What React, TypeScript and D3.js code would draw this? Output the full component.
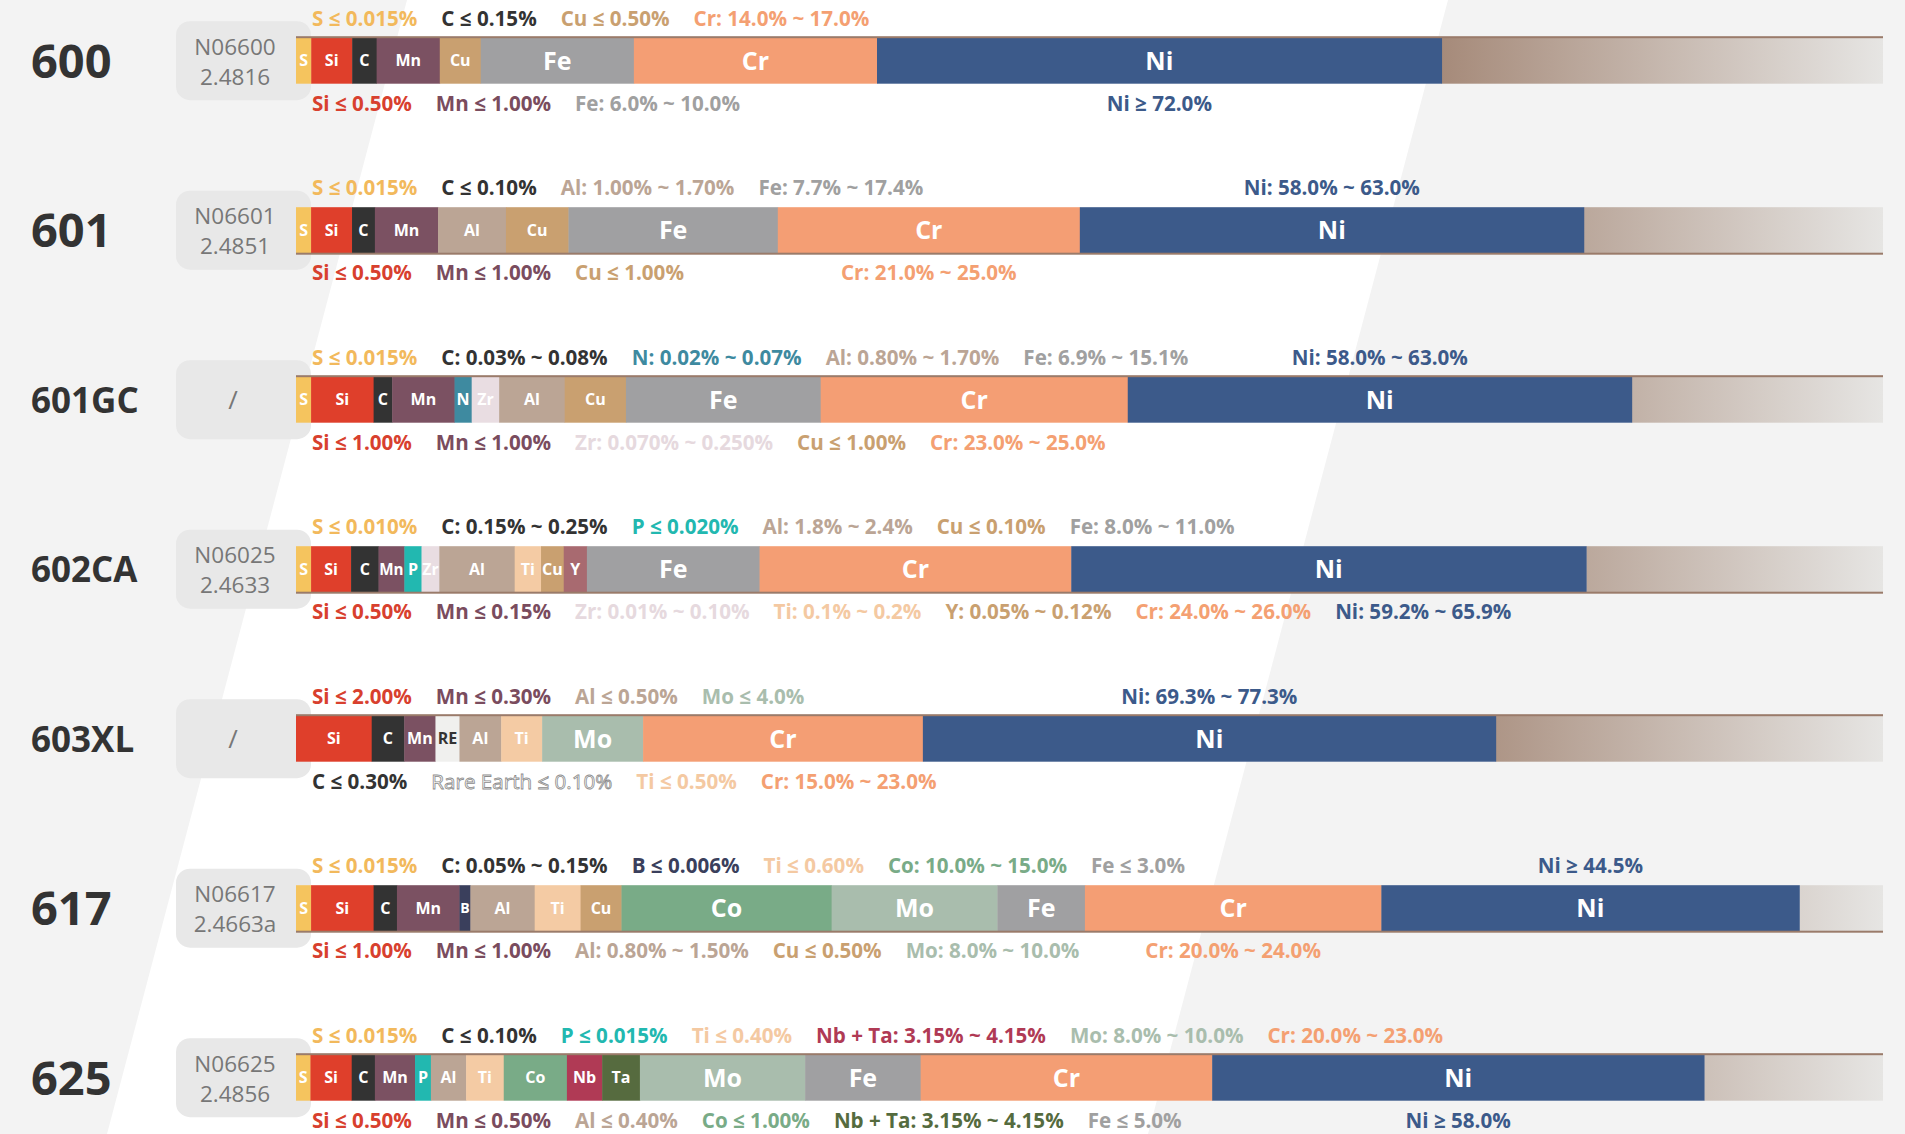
import { useEffect, useRef } from "react";
import * as d3 from "d3";

type Seg = [string, number];
type Note = [string, string, boolean?];

const W = 1905;
const H = 1134;

const grades = ["600", "601", "601GC", "602CA", "603XL", "617", "625"];
const uns = ["N06600", "N06601", "/", "N06025", "/", "N06617", "N06625"];
const werkstoff = ["2.4816", "2.4851", "", "2.4633", "", "2.4663a", "2.4856"];

const elementKeys = ["S", "Si", "C", "Mn", "P", "N", "Zr", "B", "RE", "Al", "Ti", "Cu", "Y", "Co", "Nb", "Ta", "Mo", "Fe", "Cr", "Ni"];
const segmentColors = ["#f5c45e", "#df3f2b", "#333333", "#7b5162", "#22b8b0", "#3e8aa0", "#e9dde2", "#3a3f5c", "#f0f0ee", "#bba595", "#f4cba4", "#c9a070", "#a86a70", "#79ab87", "#b03a55", "#566b3f", "#a9bdad", "#a0a0a2", "#f49e74", "#3c5a8a"];
const noteColors = ["#f2b95c", "#d8402e", "#333333", "#7a4c5e", "#22b8b0", "#3e8aa0", "#e6d9de", "#3a3f5c", "#ffffff", "#bba595", "#f4c9a2", "#c9a070", "#c9a070", "#79ab87", "#b03a55", "#556b3e", "#a9bdad", "#a0a0a0", "#f4a072", "#3c5a8a"];

// segment widths, share of the full bar (the rest is the fading tail)
const comp600: Seg[] = [["S", 0.96], ["Si", 2.58], ["C", 1.54], ["Mn", 3.98], ["Cu", 2.58], ["Fe", 9.65], ["Cr", 15.32], ["Ni", 35.58]];
const comp601: Seg[] = [["S", 0.95], ["Si", 2.58], ["C", 1.44], ["Mn", 3.98], ["Al", 4.28], ["Cu", 3.94], ["Fe", 13.19], ["Cr", 19.03], ["Ni", 31.76]];
const comp601GC: Seg[] = [["S", 0.95], ["Si", 3.94], ["C", 1.17], ["Mn", 3.93], ["N", 1.08], ["Zr", 1.73], ["Al", 4.13], ["Cu", 3.86], ["Fe", 12.27], ["Cr", 19.35], ["Ni", 31.76]];
const comp602CA: Seg[] = [["S", 0.95], ["Si", 2.52], ["C", 1.73], ["Mn", 1.63], ["P", 1.08], ["Zr", 1.12], ["Al", 4.75], ["Ti", 1.66], ["Cu", 1.43], ["Y", 1.46], ["Fe", 10.88], ["Cr", 19.64], ["Ni", 32.45]];
const comp603XL: Seg[] = [["Si", 4.77], ["C", 2.05], ["Mn", 1.97], ["RE", 1.51], ["Al", 2.63], ["Ti", 2.58], ["Mo", 6.36], ["Cr", 17.63], ["Ni", 36.1]];
const comp617: Seg[] = [["S", 0.95], ["Si", 3.94], ["C", 1.47], ["Mn", 3.94], ["B", 0.69], ["Al", 4.05], ["Ti", 2.89], ["Cu", 2.58], ["Co", 13.24], ["Mo", 10.45], ["Fe", 5.51], ["Cr", 18.68], ["Ni", 26.34]];
const comp625: Seg[] = [["S", 0.91], ["Si", 2.6], ["C", 1.46], ["Mn", 2.53], ["P", 1.0], ["Al", 2.22], ["Ti", 2.37], ["Co", 3.98], ["Nb", 2.22], ["Ta", 2.38], ["Mo", 10.41], ["Fe", 7.28], ["Cr", 18.37], ["Ni", 31.0]];

const top600: Note[] = [["S", "S ≤ 0.015%"], ["C", "C ≤ 0.15%"], ["Cu", "Cu ≤ 0.50%"], ["Cr", "Cr: 14.0% ~ 17.0%"]];
const bot600: Note[] = [["Si", "Si ≤ 0.50%"], ["Mn", "Mn ≤ 1.00%"], ["Fe", "Fe: 6.0% ~ 10.0%"], ["Ni", "Ni ≥ 72.0%", true]];
const top601: Note[] = [["S", "S ≤ 0.015%"], ["C", "C ≤ 0.10%"], ["Al", "Al: 1.00% ~ 1.70%"], ["Fe", "Fe: 7.7% ~ 17.4%"], ["Ni", "Ni: 58.0% ~ 63.0%", true]];
const bot601: Note[] = [["Si", "Si ≤ 0.50%"], ["Mn", "Mn ≤ 1.00%"], ["Cu", "Cu ≤ 1.00%"], ["Cr", "Cr: 21.0% ~ 25.0%", true]];
const top601GC: Note[] = [["S", "S ≤ 0.015%"], ["C", "C: 0.03% ~ 0.08%"], ["N", "N: 0.02% ~ 0.07%"], ["Al", "Al: 0.80% ~ 1.70%"], ["Fe", "Fe: 6.9% ~ 15.1%"], ["Ni", "Ni: 58.0% ~ 63.0%", true]];
const bot601GC: Note[] = [["Si", "Si ≤ 1.00%"], ["Mn", "Mn ≤ 1.00%"], ["Zr", "Zr: 0.070% ~ 0.250%"], ["Cu", "Cu ≤ 1.00%"], ["Cr", "Cr: 23.0% ~ 25.0%"]];
const top602CA: Note[] = [["S", "S ≤ 0.010%"], ["C", "C: 0.15% ~ 0.25%"], ["P", "P ≤ 0.020%"], ["Al", "Al: 1.8% ~ 2.4%"], ["Cu", "Cu ≤ 0.10%"], ["Fe", "Fe: 8.0% ~ 11.0%"]];
const bot602CA: Note[] = [["Si", "Si ≤ 0.50%"], ["Mn", "Mn ≤ 0.15%"], ["Zr", "Zr: 0.01% ~ 0.10%"], ["Ti", "Ti: 0.1% ~ 0.2%"], ["Y", "Y: 0.05% ~ 0.12%"], ["Cr", "Cr: 24.0% ~ 26.0%"], ["Ni", "Ni: 59.2% ~ 65.9%"]];
const top603XL: Note[] = [["Si", "Si ≤ 2.00%"], ["Mn", "Mn ≤ 0.30%"], ["Al", "Al ≤ 0.50%"], ["Mo", "Mo ≤ 4.0%"], ["Ni", "Ni: 69.3% ~ 77.3%", true]];
const bot603XL: Note[] = [["C", "C ≤ 0.30%"], ["RE", "Rare Earth ≤ 0.10%"], ["Ti", "Ti ≤ 0.50%"], ["Cr", "Cr: 15.0% ~ 23.0%"]];
const top617: Note[] = [["S", "S ≤ 0.015%"], ["C", "C: 0.05% ~ 0.15%"], ["B", "B ≤ 0.006%"], ["Ti", "Ti ≤ 0.60%"], ["Co", "Co: 10.0% ~ 15.0%"], ["Fe", "Fe ≤ 3.0%"], ["Ni", "Ni ≥ 44.5%", true]];
const bot617: Note[] = [["Si", "Si ≤ 1.00%"], ["Mn", "Mn ≤ 1.00%"], ["Al", "Al: 0.80% ~ 1.50%"], ["Cu", "Cu ≤ 0.50%"], ["Mo", "Mo: 8.0% ~ 10.0%"], ["Cr", "Cr: 20.0% ~ 24.0%", true]];
const top625: Note[] = [["S", "S ≤ 0.015%"], ["C", "C ≤ 0.10%"], ["P", "P ≤ 0.015%"], ["Ti", "Ti ≤ 0.40%"], ["Nb", "Nb + Ta: 3.15% ~ 4.15%"], ["Mo", "Mo: 8.0% ~ 10.0%"], ["Cr", "Cr: 20.0% ~ 23.0%"]];
const bot625: Note[] = [["Si", "Si ≤ 0.50%"], ["Mn", "Mn ≤ 0.50%"], ["Al", "Al ≤ 0.40%"], ["Co", "Co ≤ 1.00%"], ["Ta", "Nb + Ta: 3.15% ~ 4.15%"], ["Fe", "Fe ≤ 5.0%"], ["Ni", "Ni ≥ 58.0%", true]];

const compositions = [comp600, comp601, comp601GC, comp602CA, comp603XL, comp617, comp625];
const topNotes = [top600, top601, top601GC, top602CA, top603XL, top617, top625];
const bottomNotes = [bot600, bot601, bot601GC, bot602CA, bot603XL, bot617, bot625];

const FONT = "'Open Sans', 'Noto Sans', sans-serif";

export default function App() {
  const ref = useRef<SVGSVGElement | null>(null);

  useEffect(() => {
    document.body.style.margin = "0";
    const svg = d3.select(ref.current);
    svg.selectAll("*").remove();

    const x = d3.scaleLinear().domain([0, 100]).range([296, 1883]);
    const row = d3.scaleLinear().domain([0, 1]).range([37.7, 37.7 + 169.5]);
    const barH = 46;
    const segColor = d3.scaleOrdinal<string, string>(elementKeys, segmentColors);
    const noteColor = d3.scaleOrdinal<string, string>(elementKeys, noteColors);

    const defs = svg.append("defs");
    const grad = defs
      .append("linearGradient")
      .attr("id", "tail")
      .attr("gradientUnits", "userSpaceOnUse")
      .attr("x1", 1400)
      .attr("x2", 1883)
      .attr("y1", 0)
      .attr("y2", 0);
    grad.append("stop").attr("offset", 0).attr("stop-color", "#a08270");
    grad.append("stop").attr("offset", 1).attr("stop-color", "#e6e5e3");

    // background: grey with a slanted white band
    svg.append("rect").attr("width", W).attr("height", H).attr("fill", "#f3f3f3");
    svg
      .append("polygon")
      .attr("points", "407,0 1448,0 1148,1134 107,1134")
      .attr("fill", "#ffffff");

    grades.forEach((g, i) => {
      const top = row(i);
      const mid = top + barH / 2;
      const gRow = svg.append("g");

      // grade name
      gRow
        .append("text")
        .attr("x", 31)
        .attr("y", mid + (g.length > 3 ? 13 : 17))
        .attr("font-family", FONT)
        .attr("font-weight", 700)
        .attr("font-size", g.length > 3 ? 35 : 47)
        .attr("fill", "#333")
        .text(g);

      // standards box
      gRow
        .append("rect")
        .attr("x", 176)
        .attr("y", mid - 39.5)
        .attr("width", 135)
        .attr("height", 79)
        .attr("rx", 14)
        .attr("fill", "#e8e8e8");
      if (werkstoff[i]) {
        [uns[i], werkstoff[i]].forEach((t, k) => {
          gRow
            .append("text")
            .attr("x", 235)
            .attr("y", mid + (k === 0 ? -6 : 24))
            .attr("text-anchor", "middle")
            .attr("font-family", FONT)
            .attr("font-size", 22.5)
            .attr("fill", "#777")
            .text(t);
        });
      } else {
        gRow
          .append("text")
          .attr("x", 233)
          .attr("y", mid + 9)
          .attr("text-anchor", "middle")
          .attr("font-family", FONT)
          .attr("font-size", 26)
          .attr("fill", "#777")
          .text(uns[i]);
      }

      // stacked segments
      const segs = compositions[i];
      let acc = 0;
      const placed = segs.map(([el, v]) => {
        const p = { el, x0: x(acc), x1: x(acc + v) };
        acc += v;
        return p;
      });
      gRow
        .append("rect")
        .attr("x", x(acc))
        .attr("y", top)
        .attr("width", x(100) - x(acc))
        .attr("height", barH)
        .attr("fill", "url(#tail)");
      gRow
        .selectAll("rect.seg")
        .data(placed)
        .join("rect")
        .attr("class", "seg")
        .attr("x", (d) => d.x0)
        .attr("y", top)
        .attr("width", (d) => d.x1 - d.x0 + 0.4)
        .attr("height", barH)
        .attr("fill", (d) => segColor(d.el));

      placed.forEach((d) => {
        const w = d.x1 - d.x0;
        const base = w > 80 ? 25 : 16;
        const t = gRow
          .append("text")
          .attr("x", (d.x0 + d.x1) / 2)
          .attr("text-anchor", "middle")
          .attr("font-family", FONT)
          .attr("font-weight", 700)
          .attr("font-size", base)
          .attr("fill", d.el === "RE" ? "#333" : "#fff")
          .text(d.el);
        let fs = base;
        const tl = (t.node() as SVGTextElement).getComputedTextLength();
        if (tl > w - 1.5) {
          fs = Math.max(8, (base * (w - 1.5)) / tl);
          t.attr("font-size", fs);
        }
        t.attr("y", mid + fs * 0.36);
      });

      // thin edge line, alternating top / bottom
      gRow
        .append("rect")
        .attr("x", x(0))
        .attr("y", i % 2 === 0 ? top - 1.5 : top + barH - 0.5)
        .attr("width", x(100) - x(0))
        .attr("height", 2)
        .attr("fill", "#9a7b6a");

      // annotations
      const drawNotes = (notes: Note[], y: number) => {
        let cx = 312;
        notes.forEach(([el, txt, centred]) => {
          const t = gRow
            .append("text")
            .attr("y", y)
            .attr("font-family", FONT)
            .attr("font-weight", 700)
            .attr("font-size", 20.6)
            .attr("fill", noteColor(el))
            .text(txt);
          if (el === "RE") {
            t.attr("stroke", "#8c8c8c").attr("stroke-width", 0.8).attr("font-weight", 400);
          }
          if (centred) {
            const s = placed.find((p) => p.el === el)!;
            t.attr("x", (s.x0 + s.x1) / 2).attr("text-anchor", "middle");
          } else {
            t.attr("x", cx);
            cx += (t.node() as SVGTextElement).getComputedTextLength() + 24;
          }
        });
      };
      drawNotes(topNotes[i], top - 12);
      drawNotes(bottomNotes[i], top + barH + 27);
    });
  }, []);

  return <svg ref={ref} width={W} height={H} style={{ display: "block" }} />;
}
